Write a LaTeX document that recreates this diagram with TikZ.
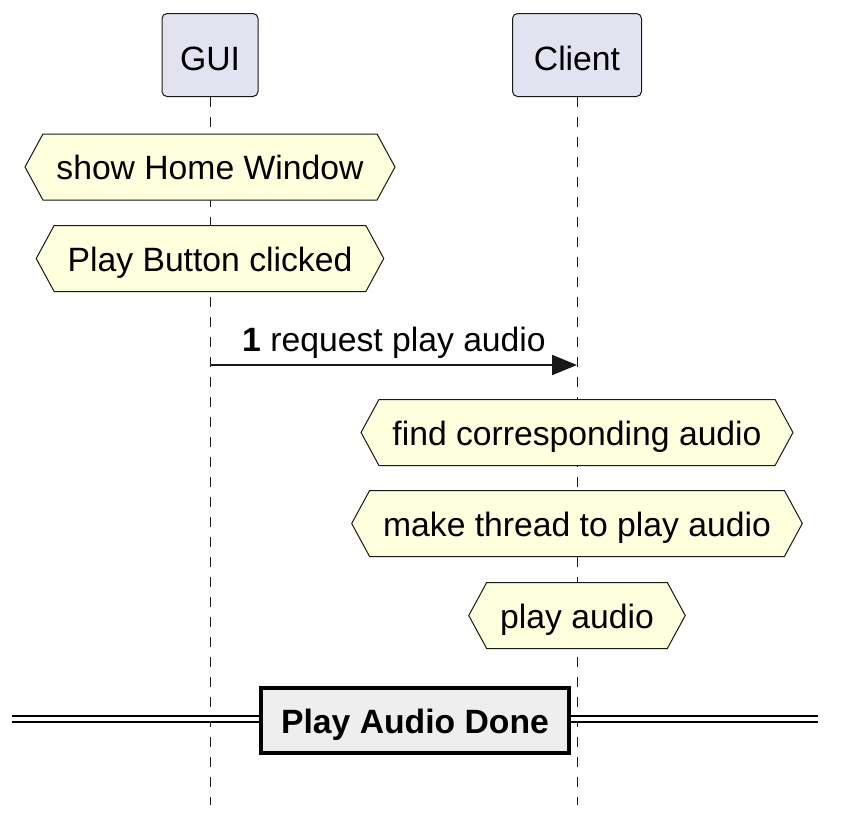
\documentclass[tikz,border=0pt]{standalone}
\usepackage{fontspec}
\setmainfont{Liberation Sans}
\usepackage{tikz}
\usetikzlibrary{shapes.symbols,arrows.meta,positioning,calc}
\definecolor{actorfill}{HTML}{E2E2F0}
\definecolor{notefill}{HTML}{FEFFDD}
\definecolor{edge}{HTML}{181818}
\definecolor{sepfill}{HTML}{EEEEEE}

\begin{document}
\begin{tikzpicture}[x=0.5pt,y=-0.5pt,
  font=\fontsize{16.85}{20}\selectfont,
  actor/.style={draw=edge,fill=actorfill,rounded corners=2.5pt,line width=0.5pt,minimum height=41.5pt,text height=15pt,text depth=0pt},
  hexnote/.style={signal,signal to=east and west,signal pointer angle=123,draw=edge,fill=notefill,line width=0.5pt,minimum height=33pt,inner xsep=6.75pt,text height=12.8pt,text depth=0pt},
  lifeline/.style={draw=edge,line width=0.5pt,dash pattern=on 5pt off 5pt},
  sepbox/.style={draw=black,fill=sepfill,line width=2.25pt,minimum width=154pt,minimum height=32.5pt,text height=12.8pt,text depth=0pt}]
\useasboundingbox (0,0) rectangle (845,820);
% participants and lifelines
\node[actor,minimum width=48pt] (gui) at (210,55) {GUI};
\node[actor,minimum width=64.5pt] (client) at (577,55) {Client};
\coordinate (guiend) at (210,805);
\coordinate (clientend) at (577,805);
\draw[lifeline] (gui.south) -- (guiend);
\draw[lifeline] (client.south) -- (clientend);
% notes over the lifelines
\foreach \nm/\xx/\yy/\txt in {
  home/210/167/{show Home Window},
  clicked/210/258.5/{Play Button clicked},
  find/577/432.5/{find corresponding audio},
  thread/577/523.5/{make thread to play audio},
  playing/577/615.5/{play audio}}{
  \node[hexnote] (\nm) at (\xx,\yy) {\txt};
}
% message
\coordinate (msgfrom) at (210,365);
\coordinate (msgto) at (577,365);
\draw[edge,line width=1pt,-{Triangle[length=12.5pt,width=10pt]}] (msgfrom) -- (msgto);
\node[anchor=base] (msglab) at (394,351) {\textbf{1} request play audio};
% divider
\coordinate (sepl) at (12,719);
\coordinate (sepr) at (818,719);
\draw[black,line width=1.25pt,double=white,double distance=1.75pt] (sepl) -- (sepr);
\node[sepbox] (done) at (415,720.5) {\textbf{Play Audio Done}};
\end{tikzpicture}
\end{document}
